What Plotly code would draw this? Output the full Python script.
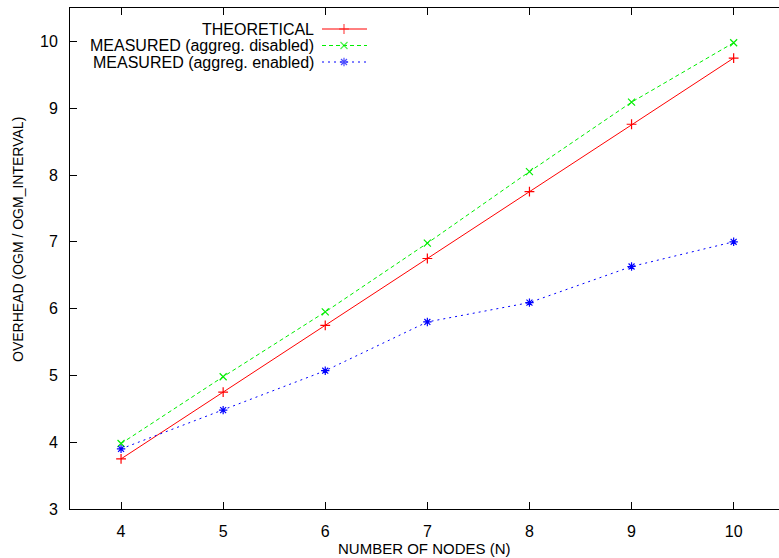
import plotly.graph_objects as go

# ---- data ----
nodes = [4, 5, 6, 7, 8, 9, 10]
theoretical = [3.75, 4.75, 5.75, 6.75, 7.75, 8.76, 9.75]
measured_disabled = [3.98, 4.98, 5.95, 6.98, 8.05, 9.09, 9.98]
measured_enabled = [3.90, 4.48, 5.07, 5.80, 6.09, 6.63, 7.00]

series_names = ["THEORETICAL", "MEASURED (aggreg. disabled)", "MEASURED (aggreg. enabled)"]
x_ticks = [4, 5, 6, 7, 8, 9, 10]
y_ticks = [3, 4, 5, 6, 7, 8, 9, 10]
x_title = "NUMBER OF NODES (N)"
y_title = "OVERHEAD (OGM / OGM_INTERVAL)"

W, H = 779, 558
ML, MR, MT, MB = 70, 0, 8, 49
PW, PH = W - ML - MR, H - MT - MB
FONT = "Liberation Sans, Arial, sans-serif"
FS = 16

styles = [
    dict(color="#ff0000", dash="solid", symbol="cross-thin-open"),
    dict(color="#00ee00", dash="4px,3px", symbol="x-thin-open"),
    dict(color="#0000ff", dash="2px,4px", symbol="asterisk-open"),
]
all_series = [theoretical, measured_disabled, measured_enabled]

fig = go.Figure()
for name, ys, st in zip(series_names, all_series, styles):
    fig.add_trace(go.Scatter(
        x=nodes, y=ys, mode="lines+markers", name=name,
        line=dict(color=st["color"], width=1, dash=st["dash"]),
        marker=dict(symbol=st["symbol"], size=7, color=st["color"],
                    line=dict(color=st["color"], width=1.2)),
        showlegend=False,
    ))

# ---- gnuplot-style key (text left, sample right) on a pixel overlay axis ----
key_text_right = 316
key_line = [322, 344, 367]
key_rows = [29, 45.5, 62]
for name, st, ry in zip(series_names, styles, key_rows):
    fig.add_trace(go.Scatter(
        x=key_line, y=[ry] * 3, xaxis="x2", yaxis="y2", mode="lines+markers",
        line=dict(color=st["color"], width=1, dash=st["dash"]),
        marker=dict(symbol=st["symbol"], size=[0, 7, 0], color=st["color"],
                    line=dict(color=st["color"], width=1.2)),
        showlegend=False, hoverinfo="skip",
    ))
    fig.add_annotation(x=key_text_right, y=ry, xref="x2", yref="y2", text=name,
                       showarrow=False, xanchor="right", yanchor="middle",
                       font=dict(family=FONT, size=FS, color="#000"))

def px_to_paper(px, py):
    return (px - ML) / PW, (H - MB - py) / PH

tx, ty = px_to_paper(424, 548)
fig.add_annotation(x=tx, y=ty, xref="paper", yref="paper", text=x_title, showarrow=False,
                   xanchor="center", yanchor="middle", font=dict(family=FONT, size=15))
tx, ty = px_to_paper(18, 240)
fig.add_annotation(x=tx, y=ty, xref="paper", yref="paper", text=y_title, showarrow=False,
                   textangle=-90, xanchor="center", yanchor="middle",
                   font=dict(family=FONT, size=14))

fig.update_layout(
    width=W, height=H,
    margin=dict(l=ML, r=MR, t=MT, b=MB, pad=0),
    paper_bgcolor="white", plot_bgcolor="white",
    font=dict(family=FONT, size=FS, color="#000"),
    xaxis=dict(
        range=[3.5, 3.5 + PW / 102.1], tickvals=x_ticks,
        showgrid=False, zeroline=False, automargin=False,
        showline=True, linecolor="#000", linewidth=1, mirror="ticks",
        ticks="inside", ticklen=7, tickcolor="#000",
        ticklabelstandoff=8,
    ),
    yaxis=dict(
        range=[3, 10.5], tickvals=y_ticks,
        showgrid=False, zeroline=False, automargin=False,
        showline=True, linecolor="#000", linewidth=1, mirror=False,
        ticks="inside", ticklen=7, tickcolor="#000",
        ticklabelstandoff=8,
    ),
    xaxis2=dict(range=[ML, W - MR], overlaying="x", visible=False, domain=[0, 1]),
    yaxis2=dict(range=[H - MB, MT], overlaying="y", visible=False, domain=[0, 1]),
)

fig.write_html(
    "out.html",
    config={"displayModeBar": False},
    post_script="document.body.style.margin='0';document.body.style.overflow='hidden';",
)
